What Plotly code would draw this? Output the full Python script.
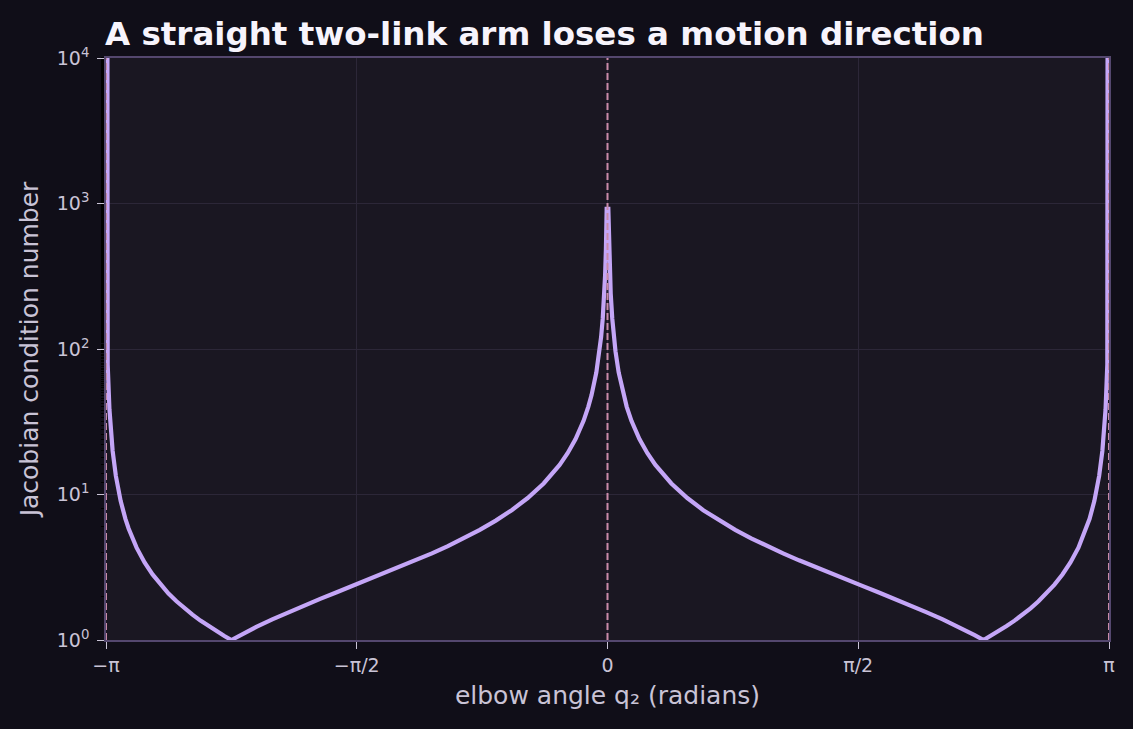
import math
import plotly.graph_objects as go

# elbow angle q2 (radians), right half; left half mirrors it
q_half = [0.00524, 0.01, 0.015, 0.02, 0.03, 0.04, 0.05, 0.07, 0.1, 0.12, 0.15,
          0.2, 0.25, 0.3, 0.4, 0.5, 0.6, 0.7, 0.8, 0.9, 1.0, 1.1, 1.2, 1.3,
          1.4, 1.5, 1.6, 1.7, 1.8, 1.9, 2.0, 2.1, 2.2, 2.3, 2.356, 2.4, 2.5,
          2.55, 2.6, 2.65, 2.7, 2.75, 2.8, 2.85, 2.9, 2.95, 3.0, 3.02, 3.05,
          3.08, 3.1, 3.12, 3.131, 3.1416]
# Jacobian condition number (last point runs off the top)
kappa_half = [920, 483, 322, 241.4, 160.9, 120.7, 96.5, 69.0, 48.2, 40.2, 32.1,
              24.06, 19.21, 15.97, 11.91, 9.455, 7.804, 6.614, 5.710, 4.998,
              4.419, 3.938, 3.529, 3.176, 2.866, 2.591, 2.345, 2.121, 1.916,
              1.726, 1.550, 1.385, 1.229, 1.079, 1.0, 1.065, 1.247, 1.359,
              1.492, 1.651, 1.845, 2.088, 2.402, 2.821, 3.412, 4.311, 5.841,
              6.805, 9.038, 13.45, 19.92, 38.37, 78.2, 1e16]

singular_angles = [-math.pi, 0.0, math.pi]
tick_vals = [-math.pi, -math.pi / 2, 0.0, math.pi / 2, math.pi]
tick_text = ["\u2212\u03c0", "\u2212\u03c0/2", "0", "\u03c0/2", "\u03c0"]
y_tick_vals = [1, 10, 100, 1000, 10000]
y_tick_text = ["10<sup>0</sup>", "10<sup>1</sup>", "10<sup>2</sup>",
               "10<sup>3</sup>", "10<sup>4</sup>"]

q = [-v for v in reversed(q_half)] + q_half
kappa = list(reversed(kappa_half)) + kappa_half

BG = "#100e18"
PLOT_BG = "#1a1722"
GRID = "#2c2738"
FRAME = "#54476e"
TEXT = "#c9c3d6"
CURVE = "#c4a6f7"
DASH = "#c98ba9"

fig = go.Figure()
fig.add_trace(go.Scatter(
    x=q, y=kappa, mode="lines",
    line=dict(color=CURVE, width=4.2),
    hoverinfo="skip", showlegend=False,
))

for a in singular_angles:
    fig.add_shape(
        type="line", xref="x", yref="paper",
        x0=a, x1=a, y0=0, y1=1,
        line=dict(color=DASH, width=2, dash="7px,3px"),
        layer="above",
    )

fig.update_layout(
    width=1133, height=729,
    paper_bgcolor=BG, plot_bgcolor=PLOT_BG,
    margin=dict(l=106, r=24, t=58, b=89),
    font=dict(family="DejaVu Sans", color=TEXT, size=19),
    title=dict(
        text="<b>A straight two-link arm loses a motion direction</b>",
        font=dict(family="DejaVu Sans", size=32.5, color="#f7f4fc"),
        x=105 / 1133, xref="container", xanchor="left",
        y=1 - 34 / 729, yref="container", yanchor="middle",
    ),
)

fig.update_xaxes(
    range=[-math.pi, math.pi],
    tickvals=tick_vals, ticktext=tick_text,
    ticks="outside", ticklen=7, tickwidth=1.3, tickcolor=TEXT,
    tickfont=dict(size=19, color=TEXT),
    showgrid=True, gridcolor=GRID, gridwidth=1,
    zeroline=False,
    showline=True, linecolor=FRAME, linewidth=1.5, mirror=True,
    title=dict(text="elbow angle q\u2082 (radians)", font=dict(size=25, color=TEXT), standoff=12),
)

fig.update_yaxes(
    type="log", range=[0, 4],
    tickvals=y_tick_vals, ticktext=y_tick_text,
    ticks="outside", ticklen=7, tickwidth=1.3, tickcolor=TEXT,
    tickfont=dict(size=19, color=TEXT),
    ticklabelstandoff=4,
    minor=dict(ticks="outside", ticklen=3.5, tickcolor="#000000", showgrid=False),
    showgrid=True, gridcolor=GRID, gridwidth=1,
    zeroline=False,
    showline=True, linecolor=FRAME, linewidth=1.5, mirror=True,
    title=dict(text="Jacobian condition number", font=dict(size=25, color=TEXT), standoff=11),
)

fig.write_html("out.html", config={"displayModeBar": False},
               post_script="document.body.style.margin='0';")
